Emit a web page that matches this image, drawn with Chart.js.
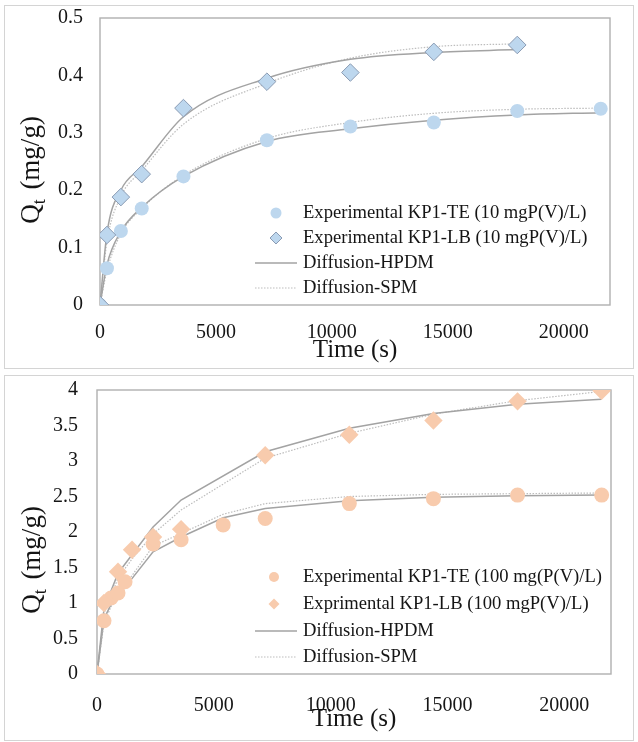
<!DOCTYPE html>
<html><head><meta charset="utf-8">
<script src="https://cdn.jsdelivr.net/npm/chart.js@4.4.1/dist/chart.umd.min.js"></script>
<style>
html,body{margin:0;padding:0;background:#fff;width:638px;height:742px;overflow:hidden}
.panel{position:absolute;left:4px;width:630px;box-sizing:border-box;border:1px solid #d4d4d4;background:#fff}
#p1{top:5px;height:364px}
#p2{top:375px;height:366px}
canvas{display:block}
</style></head><body>
<div class="panel" id="p1"><canvas id="c1" width="628" height="362"></canvas></div>
<div class="panel" id="p2"><canvas id="c2" width="628" height="364"></canvas></div>
<script>
// ---------- Panel 1 (10 mgP(V)/L) ----------
const timeTE10 = [0, 300, 900, 1800, 3600, 7200, 10800, 14400, 18000, 21600];
const expTE10  = [0, 0.064, 0.129, 0.168, 0.224, 0.287, 0.311, 0.318, 0.338, 0.342];
const hpdmTE10 = [0, 0.070, 0.128, 0.170, 0.224, 0.285, 0.307, 0.322, 0.331, 0.335];
const spmTE10  = [0, 0.060, 0.124, 0.168, 0.226, 0.290, 0.318, 0.334, 0.341, 0.343];
const timeLB10 = [0, 300, 900, 1800, 3600, 7200, 10800, 14400, 18000];
const expLB10  = [0, 0.122, 0.188, 0.228, 0.343, 0.389, 0.405, 0.441, 0.453];
const hpdmLB10 = [0, 0.125, 0.200, 0.241, 0.328, 0.395, 0.428, 0.440, 0.445];
const spmLB10  = [0, 0.110, 0.189, 0.234, 0.315, 0.386, 0.430, 0.450, 0.455];
const legend10 = ['Experimental KP1-TE (10 mgP(V)/L)', 'Experimental KP1-LB (10 mgP(V)/L)', 'Diffusion-HPDM', 'Diffusion-SPM'];

// ---------- Panel 2 (100 mgP(V)/L) ----------
const timeTE100 = [0, 300, 600, 900, 1200, 2400, 3600, 5400, 7200, 10800, 14400, 18000, 21600];
const expTE100  = [0, 0.75, 1.07, 1.14, 1.30, 1.83, 1.89, 2.10, 2.19, 2.40, 2.47, 2.52, 2.52];
const hpdmTE100 = [0, 0.78, 0.98, 1.10, 1.22, 1.72, 1.93, 2.20, 2.33, 2.44, 2.49, 2.51, 2.52];
const spmTE100  = [0, 0.72, 0.95, 1.10, 1.25, 1.80, 1.98, 2.25, 2.40, 2.50, 2.53, 2.54, 2.55];
const timeLB100 = [0, 300, 900, 1500, 2400, 3600, 7200, 10800, 14400, 18000, 21600];
const expLB100  = [0, 1.00, 1.44, 1.75, 1.93, 2.04, 3.08, 3.37, 3.57, 3.84, 3.99];
const hpdmLB100 = [0, 0.92, 1.42, 1.68, 2.07, 2.45, 3.13, 3.46, 3.67, 3.80, 3.87];
const spmLB100  = [0, 0.85, 1.35, 1.62, 1.97, 2.31, 3.04, 3.39, 3.66, 3.85, 3.98];
const legend100 = ['Experimental KP1-TE (100 mg(P(V)/L)', 'Exprimental KP1-LB (100 mgP(V)/L)', 'Diffusion-HPDM', 'Diffusion-SPM'];

const xTicks = [0, 5000, 10000, 15000, 20000];
const FONT = '"Liberation Serif", "Times New Roman", serif';
const TXT = '#151515';

function pts(xs, ys){ return xs.map((x,i)=>({x:x, y:ys[i]})); }

const decor = {
  id: 'decor',
  beforeDatasetsDraw(chart, args, o){
    const ctx = chart.ctx, a = chart.chartArea;
    ctx.save();
    ctx.strokeStyle = '#b0b0b0'; ctx.lineWidth = 1.4;
    ctx.strokeRect(a.left, a.top, a.right - a.left, a.bottom - a.top);
    ctx.restore();
  },
  afterDraw(chart, args, o){
    const ctx = chart.ctx;
    // y title with subscript
    ctx.save();
    ctx.translate(o.titleX, o.titleY); ctx.rotate(-Math.PI/2);
    ctx.fillStyle = TXT; ctx.textBaseline = 'middle'; ctx.textAlign = 'left';
    const big = '27px ' + FONT, small = '18px ' + FONT;
    ctx.font = big; const wQ = ctx.measureText('Q').width;
    ctx.font = small; const wt = ctx.measureText('t').width + 1;
    ctx.font = big; const wr = ctx.measureText(' (mg/g)').width + 2;
    let x = -(wQ + wt + wr) / 2;
    ctx.fillText('Q', x, 0); x += wQ;
    ctx.font = small; ctx.fillText('t', x, 8); x += wt;
    ctx.font = big; ctx.fillText(' (mg/g)', x + 2, 0);
    ctx.restore();
    // legend
    ctx.save();
    ctx.font = o.legendFont + 'px ' + FONT; ctx.textBaseline = 'middle'; ctx.textAlign = 'left';
    o.legend.forEach((lab, i) => {
      const y = o.legendYs[i];
      const mx = o.markX;
      if (i === 0) {
        ctx.beginPath(); ctx.arc(mx, y, o.legR, 0, Math.PI*2);
        ctx.fillStyle = o.fill; ctx.fill();
      } else if (i === 1) {
        const r = o.legR + 0.5;
        ctx.beginPath(); ctx.moveTo(mx, y - r); ctx.lineTo(mx + r, y); ctx.lineTo(mx, y + r); ctx.lineTo(mx - r, y); ctx.closePath();
        ctx.fillStyle = o.fill; ctx.fill();
        if (o.diaBorder) { ctx.strokeStyle = o.diaBorder; ctx.lineWidth = 1; ctx.stroke(); }
      } else {
        ctx.beginPath(); ctx.moveTo(o.lineX0, y); ctx.lineTo(o.lineX1, y);
        if (i === 2) { ctx.strokeStyle = '#a3a3a3'; ctx.lineWidth = 1.5; ctx.setLineDash([]); }
        else { ctx.strokeStyle = '#bdbdbd'; ctx.lineWidth = 1.2; ctx.setLineDash([1.5, 1.5]); }
        ctx.stroke(); ctx.setLineDash([]);
      }
      ctx.fillStyle = TXT;
      ctx.fillText(lab, o.textX, y);
    });
    ctx.restore();
  }
};

function makeChart(id, cfg){
  const lineSolid = (d) => ({data: d, showLine: true, pointRadius: 0, borderColor: '#a3a3a3', borderWidth: 1.5, fill: false, cubicInterpolationMode: cfg.smooth ? 'monotone' : 'default', tension: 0});
  const lineDot = (d) => ({data: d, showLine: true, pointRadius: 0, borderColor: '#bdbdbd', borderWidth: 1.2, borderDash: [1.5, 1.5], fill: false, cubicInterpolationMode: cfg.smooth ? 'monotone' : 'default', tension: 0});
  return new Chart(document.getElementById(id), {
    type: 'scatter',
    data: { datasets: [
      {label: cfg.legend[1], data: pts(cfg.tLB, cfg.eLB), pointStyle: 'rectRot', pointRadius: cfg.diaR, backgroundColor: cfg.fill, borderColor: cfg.diaBorder || cfg.fill, borderWidth: cfg.diaBorder ? 1 : 0},
      {label: cfg.legend[0], data: pts(cfg.tTE, cfg.eTE), pointStyle: 'circle', pointRadius: cfg.cirR, backgroundColor: cfg.fill, borderWidth: 0},
      Object.assign({label: cfg.legend[2]}, lineSolid(pts(cfg.tLB, cfg.hLB))),
      Object.assign({label: cfg.legend[3]}, lineDot(pts(cfg.tLB, cfg.sLB))),
      Object.assign({label: cfg.legend[2]}, lineSolid(pts(cfg.tTE, cfg.hTE))),
      Object.assign({label: cfg.legend[3]}, lineDot(pts(cfg.tTE, cfg.sTE)))
    ]},
    options: {
      responsive: false, animation: false, devicePixelRatio: 1,
      layout: {padding: {top: cfg.padTop, right: cfg.padRight, left: 0, bottom: 0}},
      plugins: {legend: {display: false}, tooltip: {enabled: false},
        decor: cfg.decor},
      scales: {
        x: {type: 'linear', min: 0, max: 22000,
          grid: {display: false, drawTicks: false}, border: {display: false},
          afterBuildTicks: (s) => { s.ticks = xTicks.map(v => ({value: v})); },
          afterFit: (s) => { s.height = cfg.xH; s.paddingLeft = 0; s.paddingRight = 0; s.paddingTop = 0; s.paddingBottom = 0; },
          ticks: {padding: cfg.xTickPad, color: TXT, font: {family: FONT, size: 20}, callback: (v) => String(v), maxRotation: 0, autoSkip: false},
          title: {display: true, text: 'Time (s)', color: TXT, font: {family: FONT, size: 25}, padding: {top: 0, bottom: cfg.titlePadB}}
        },
        y: {type: 'linear', min: 0, max: cfg.yMax,
          grid: {display: false, drawTicks: false}, border: {display: false},
          afterBuildTicks: (s) => { s.ticks = cfg.yTicks.map(v => ({value: v})); },
          afterFit: (s) => { s.width = cfg.yW; s.paddingTop = 0; s.paddingBottom = 0; s.paddingLeft = 0; s.paddingRight = 0; },
          ticks: {padding: cfg.yTickPad, color: TXT, font: {family: FONT, size: 20}, callback: (v) => String(Math.round(v * 10) / 10)}
        }
      }
    },
    plugins: [decor]
  });
}

makeChart('c1', {
  tTE: timeTE10, eTE: expTE10, hTE: hpdmTE10, sTE: spmTE10,
  tLB: timeLB10, eLB: expLB10, hLB: hpdmLB10, sLB: spmLB10,
  legend: legend10, smooth: true,
  fill: '#bdd7ee', diaBorder: '#8a9bb3', cirR: 7, diaR: 8.8,
  yMax: 0.5, yTicks: [0, 0.1, 0.2, 0.3, 0.4, 0.5],
  padTop: 12, padRight: 23, xH: 63, yW: 95, xTickPad: 16, yTickPad: 17, titlePadB: 3,
  decor: {titleX: 27, titleY: 164, legend: legend10, legendYs: [207, 232, 257, 282], markX: 271, legR: 5.5,
    fill: '#bdd7ee', diaBorder: '#8a9bb3', lineX0: 250, lineX1: 292, textX: 298, legendFont: 18.6}
});

makeChart('c2', {
  tTE: timeTE100, eTE: expTE100, hTE: hpdmTE100, sTE: spmTE100,
  tLB: timeLB100, eLB: expLB100, hLB: hpdmLB100, sLB: spmLB100,
  legend: legend100, smooth: false,
  fill: '#f8cbad', diaBorder: null, cirR: 7.5, diaR: 9.2,
  yMax: 4, yTicks: [0, 0.5, 1, 1.5, 2, 2.5, 3, 3.5, 4],
  padTop: 14, padRight: 22, xH: 66, yW: 92, xTickPad: 20, yTickPad: 19, titlePadB: 6,
  decor: {titleX: 28, titleY: 184, legend: legend100, legendYs: [201, 228, 255, 281], markX: 269, legR: 5,
    fill: '#f8cbad', diaBorder: null, lineX0: 250, lineX1: 292, textX: 298, legendFont: 18.6}
});
</script>
</body></html>
